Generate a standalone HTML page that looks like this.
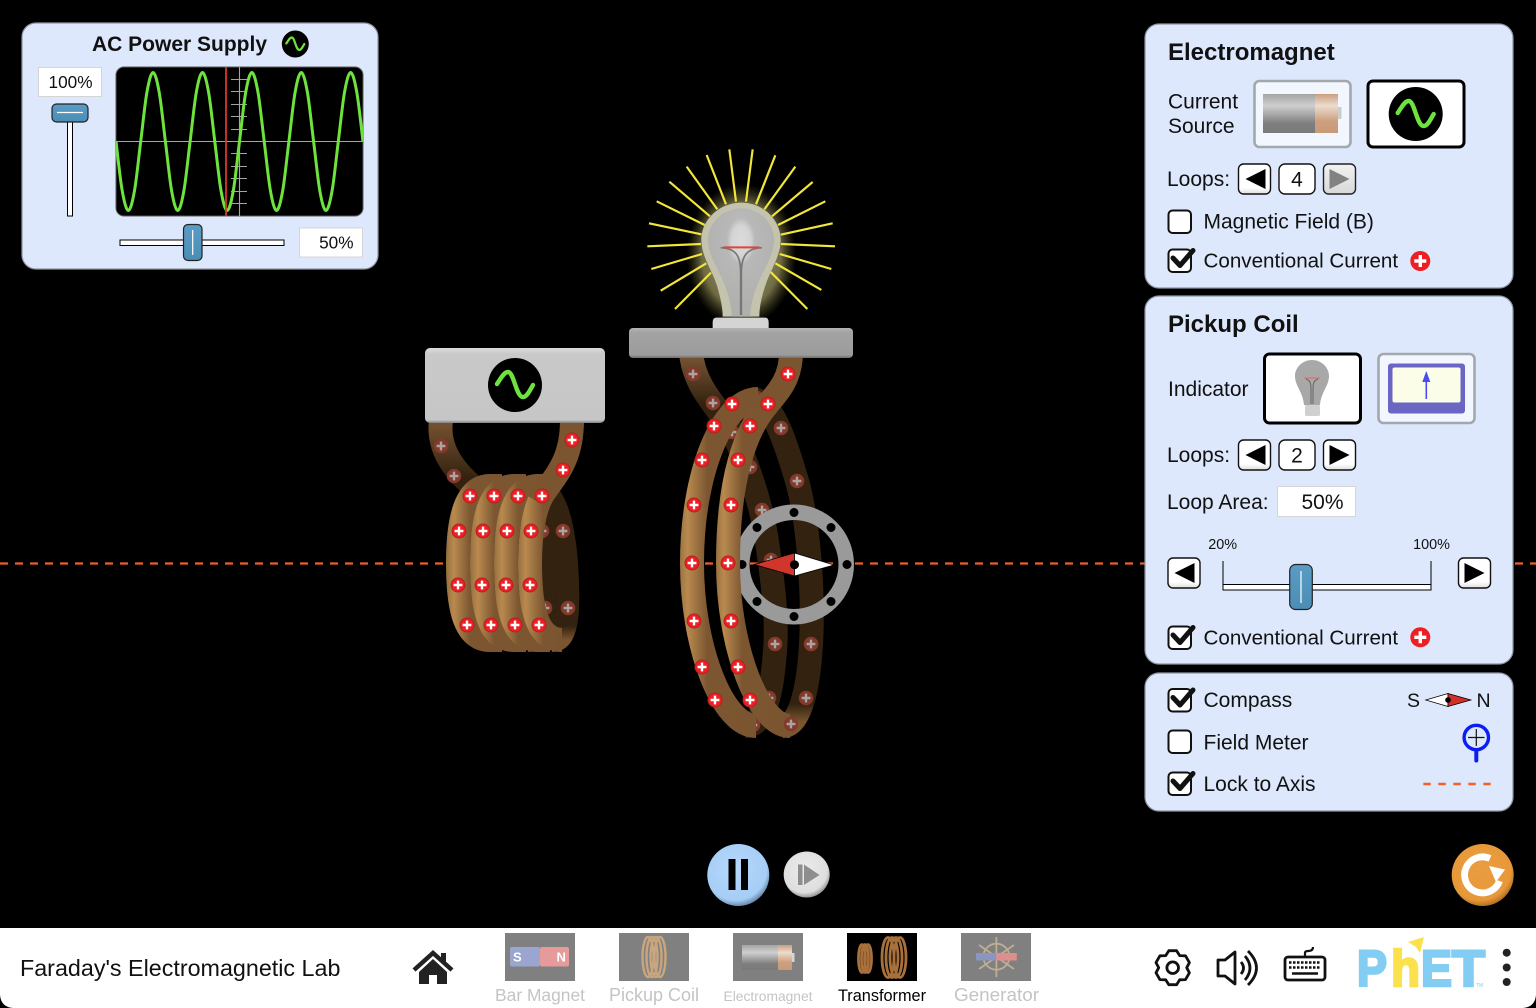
<!DOCTYPE html>
<html lang="en">
<head>
<meta charset="utf-8">
<title>Faraday's Electromagnetic Lab</title>
<style>
html,body{margin:0;padding:0;background:#000;width:1536px;height:1008px;overflow:hidden}
svg{display:block}
text{font-family:"Liberation Sans",Arial,sans-serif;fill:#111}
</style>
</head>
<body>
<svg id="scene" xmlns="http://www.w3.org/2000/svg" width="1536" height="1008" viewBox="0 0 1536 1008">
<defs>
  <g id="m"><circle r="7" fill="#ec1f24"/><circle r="7" fill="none" stroke="#b5201f" stroke-width="1"/><path d="M-4.4,0H4.4M0,-4.4V4.4" stroke="#fff" stroke-width="2.4"/></g>
  <g id="d"><circle r="7.3" fill="#83392b"/><path d="M-4.4,0H4.4M0,-4.4V4.4" stroke="#a9a6a2" stroke-width="2.4"/></g>
  <linearGradient id="gp" x1="-0.375" x2="1" y1="0" y2="0"><stop offset="0" stop-color="#96703f"/><stop offset=".17" stop-color="#b98a4f"/><stop offset=".58" stop-color="#7c5631"/><stop offset="1" stop-color="#7a5530"/></linearGradient>
  <linearGradient id="gp2" x1="-0.27" x2="1" y1="0" y2="0"><stop offset="0" stop-color="#96703f"/><stop offset=".14" stop-color="#b98a4f"/><stop offset=".43" stop-color="#7c5631"/><stop offset="1" stop-color="#7a5530"/></linearGradient>
  <linearGradient id="gs" x1="-0.2" x2="1" y1="0" y2="0"><stop offset="0" stop-color="#96703f"/><stop offset=".11" stop-color="#b98a4f"/><stop offset=".36" stop-color="#7c5631"/><stop offset="1" stop-color="#7a5530"/></linearGradient>
  <linearGradient id="leadP" gradientUnits="userSpaceOnUse" x1="0" x2="0" y1="425" y2="478"><stop offset="0" stop-color="#735030"/><stop offset="1" stop-color="#33220f"/></linearGradient>
  <linearGradient id="leadS" gradientUnits="userSpaceOnUse" x1="0" x2="0" y1="360" y2="405"><stop offset="0" stop-color="#735030"/><stop offset="1" stop-color="#33220f"/></linearGradient>
  <linearGradient id="botS" gradientUnits="userSpaceOnUse" x1="0" x2="0" y1="704" y2="722"><stop offset="0" stop-color="#33220f"/><stop offset="1" stop-color="#7a5530"/></linearGradient>
  <linearGradient id="botP" gradientUnits="userSpaceOnUse" x1="0" x2="0" y1="626" y2="640"><stop offset="0" stop-color="#33220f"/><stop offset="1" stop-color="#7a5530"/></linearGradient>
  <linearGradient id="thumb" x1="0" x2="0" y1="0" y2="1"><stop offset="0" stop-color="#5a9cc4"/><stop offset="1" stop-color="#4a8db5"/></linearGradient>
  <linearGradient id="btn" x1="0" x2="0" y1="0" y2="1"><stop offset="0" stop-color="#fff"/><stop offset=".8" stop-color="#fff"/><stop offset="1" stop-color="#ddd"/></linearGradient>
  <linearGradient id="btnOff" x1="0" x2="0" y1="0" y2="1"><stop offset="0" stop-color="#f2f2f2"/><stop offset="1" stop-color="#d8d8d8"/></linearGradient>
  <linearGradient id="batG" x1="0" x2="0" y1="0" y2="1"><stop offset="0" stop-color="#a4a4a4"/><stop offset=".3" stop-color="#cfcfcf"/><stop offset=".75" stop-color="#7f7f7f"/><stop offset="1" stop-color="#7a7a7a"/></linearGradient>
  <linearGradient id="batC" x1="0" x2="0" y1="0" y2="1"><stop offset="0" stop-color="#cc9e7c"/><stop offset=".3" stop-color="#ecdcd0"/><stop offset=".7" stop-color="#cc9f7e"/><stop offset="1" stop-color="#c89a78"/></linearGradient>
  <linearGradient id="plat" x1="0" x2="0" y1="0" y2="1"><stop offset="0" stop-color="#b4b4b4"/><stop offset=".15" stop-color="#a3a3a3"/><stop offset=".9" stop-color="#9c9c9c"/><stop offset="1" stop-color="#6d6d6d"/></linearGradient>
  <linearGradient id="box" x1="0" x2="0" y1="0" y2="1"><stop offset="0" stop-color="#dcdcdc"/><stop offset=".08" stop-color="#c9c9c9"/><stop offset=".96" stop-color="#c6c6c6"/><stop offset="1" stop-color="#808080"/></linearGradient>
  <radialGradient id="pauseG" cx=".45" cy=".4" r=".62"><stop offset="0" stop-color="#b7d8fb"/><stop offset=".82" stop-color="#a6cdf6"/><stop offset="1" stop-color="#5f7d9f"/></radialGradient>
  <radialGradient id="stepG" cx=".45" cy=".4" r=".62"><stop offset="0" stop-color="#ececec"/><stop offset=".8" stop-color="#dedede"/><stop offset="1" stop-color="#8a8a8a"/></radialGradient>
  <radialGradient id="resetG" cx=".45" cy=".4" r=".62"><stop offset="0" stop-color="#ea9d42"/><stop offset=".82" stop-color="#e79838"/><stop offset="1" stop-color="#a96a20"/></radialGradient>
  <radialGradient id="bulbIn" cx=".5" cy=".3" r=".6"><stop offset="0" stop-color="#dcdcdc"/><stop offset=".24" stop-color="#d4d4d4"/><stop offset=".36" stop-color="#b8b8b8"/><stop offset="1" stop-color="#b0b0ae"/></radialGradient>
  <radialGradient id="glow" cx=".5" cy=".5" r=".5"><stop offset="0" stop-color="#e8e29a" stop-opacity=".8"/><stop offset=".72" stop-color="#c8c27a" stop-opacity=".55"/><stop offset="1" stop-color="#888240" stop-opacity="0"/></radialGradient>
  <clipPath id="scopeClip"><rect x="116" y="67" width="247" height="149" rx="8"/></clipPath>
  <g id="sineIcon"><circle r="27" fill="#000"/><path d="M-18,-1 C-14,-7 -11,-13 -7,-13 C-1,-13 1,12 8,12 C12,12 15,5 18,0" fill="none" stroke="#6fe33d" stroke-width="4.4" stroke-linecap="round"/></g>
  <path id="triL" d="M0,-10 L-20,0 L0,10 Z"/>
</defs>

<rect width="1536" height="1008" fill="#000"/>

<path d="M0,563.5H450" stroke="#ea6029" stroke-width="2.2" stroke-dasharray="8 7"/>
<path d="M690,563.5H1536" stroke="#ea6029" stroke-width="2.2" stroke-dasharray="8 7"/>

<!-- ELECTROMAGNET COIL -->
<g fill="none" stroke-width="24">
  <path d="M441,420 C437,450 455,475 488,498" stroke="url(#leadP)"/>
  <path d="M511,486 C531,490 539,525 542,563 C544,600 546,640 528,640" stroke="url(#botP)"/>
  <path d="M535,486 C555,490 563,525 566,563 C568,600 570,640 552,640" stroke="url(#botP)"/>
  <use href="#d" x="441" y="446"/>
  <use href="#d" x="454" y="476"/>
  <use href="#d" x="563" y="531"/>
  <use href="#d" x="568" y="608"/>
  <use href="#d" x="542" y="531"/>
  <use href="#d" x="545" y="608"/>
  <path d="M502,486 L490,486 C462,486 458,530 458,563 C458,600 462,640 490,640 L502,640" stroke="url(#gp2)"/>
  <path d="M526,486 L514,486 C486,486 482,530 482,563 C482,600 486,640 514,640 L526,640" stroke="url(#gp2)"/>
  <path d="M550,486 L538,486 C510,486 506,530 506,563 C506,600 510,640 538,640 L550,640" stroke="url(#gp2)"/>
  <path d="M562,640 C534,640 530,600 530,563 C530,535 534,510 542,496" stroke="url(#gp)"/>
  <path d="M538,502 C552,478 572,465 572,420" stroke="#7a5530"/>
  <use href="#m" x="572" y="440"/>
  <use href="#m" x="563" y="470"/>
  <use href="#m" x="470" y="496"/>
  <use href="#m" x="494" y="496"/>
  <use href="#m" x="518" y="496"/>
  <use href="#m" x="542" y="496"/>
  <use href="#m" x="459" y="531"/>
  <use href="#m" x="483" y="531"/>
  <use href="#m" x="507" y="531"/>
  <use href="#m" x="531" y="531"/>
  <use href="#m" x="458" y="585"/>
  <use href="#m" x="482" y="585"/>
  <use href="#m" x="506" y="585"/>
  <use href="#m" x="530" y="585"/>
  <use href="#m" x="467" y="625"/>
  <use href="#m" x="491" y="625"/>
  <use href="#m" x="515" y="625"/>
  <use href="#m" x="539" y="625"/>
</g>
<g>
  <rect x="425" y="348" width="180" height="75" rx="5" fill="url(#box)"/>
  <use href="#sineIcon" transform="translate(515,385)"/>
</g>

<!-- PICKUP COIL BACK -->
<g fill="none" stroke-width="24">
  <path d="M691,352 C693,380 710,400 723,417 C740,442 758,490 766,535 C772,575 778,620 775,650 C773,680 768,726 745,726" stroke="url(#leadS)"/>
  <path d="M752,399 C772,400 785,440 797,481 C808,520 814,590 811,644 C809,680 802,726 783,726" stroke="url(#botS)"/>
  <use href="#d" x="693" y="374"/>
  <use href="#d" x="713" y="403"/>
  <use href="#d" x="732" y="432"/>
  <use href="#d" x="750" y="467"/>
  <use href="#d" x="762" y="510"/>
  <use href="#d" x="771" y="560"/>
  <use href="#d" x="775" y="644"/>
  <use href="#d" x="769" y="698"/>
  <use href="#d" x="753" y="725"/>
  <use href="#d" x="757" y="398"/>
  <use href="#d" x="781" y="428"/>
  <use href="#d" x="797" y="481"/>
  <use href="#d" x="811" y="644"/>
  <use href="#d" x="806" y="698"/>
</g>

<!-- COMPASS -->
<g>
  <path fill-rule="evenodd" fill="#9a9a9a" d="M734,564.5a60,60 0 1,0 120,0a60,60 0 1,0 -120,0Z M749.5,564.5a44.5,44.5 0 1,0 89,0a44.5,44.5 0 1,0 -89,0Z"/>
  <g fill="#000">
    <circle cx="794" cy="512.5" r="4.5"/><circle cx="831" cy="527.5" r="4.5"/><circle cx="847" cy="564.5" r="4.5"/><circle cx="831" cy="601.5" r="4.5"/><circle cx="794" cy="616.5" r="4.5"/><circle cx="757" cy="601.5" r="4.5"/><circle cx="742" cy="564.5" r="4.5"/><circle cx="757" cy="527.5" r="4.5"/>
  </g>
  <path d="M754,564.5 L794.5,553 L794.5,576 Z" fill="#d1362d" stroke="#000" stroke-width=".8"/>
  <path d="M834,565 L794.5,553 L794.5,576 Z" fill="#fff" stroke="#000" stroke-width=".8"/>
  <circle cx="794.5" cy="564.7" r="4.5" fill="#000"/>
</g>

<!-- PICKUP COIL FRONT -->
<g fill="none" stroke-width="24">
  <path d="M758,399 C722,399 692,475 692,563 C692,646 722,726 756,726" stroke="url(#gs)"/>
  <path d="M790,726 C758,726 728,646 728,563 C728,480 745,430 768,404" stroke="url(#gs)"/>
  <path d="M761,412 C778,392 791,380 791,352" stroke="#7a5530"/>
  <use href="#d" x="791" y="724"/>
  <use href="#m" x="788" y="374"/>
  <use href="#m" x="732" y="404"/>
  <use href="#m" x="768" y="404"/>
  <use href="#m" x="714" y="426"/>
  <use href="#m" x="750" y="426"/>
  <use href="#m" x="702" y="460"/>
  <use href="#m" x="738" y="460"/>
  <use href="#m" x="694" y="505"/>
  <use href="#m" x="731" y="505"/>
  <use href="#m" x="692" y="563"/>
  <use href="#m" x="728" y="563"/>
  <use href="#m" x="694" y="621"/>
  <use href="#m" x="731" y="621"/>
  <use href="#m" x="702" y="667"/>
  <use href="#m" x="738" y="667"/>
  <use href="#m" x="715" y="700"/>
  <use href="#m" x="750" y="700"/>
</g>

<!-- LIGHT BULB (drawn in 3x local coordinates) -->
<g transform="translate(630,140) scale(.33333)">
  <ellipse cx="334" cy="345" rx="165" ry="215" fill="url(#glow)"/>
  <g stroke="#f2e63a" stroke-width="6.5" fill="none">
    <path d="M298,28L318,185M368,28L348,185M230,45L288,193M436,46L378,193M170,80L262,208M496,80L403,208M118,125L240,229M548,126L426,229M80,184L224,255M586,184L444,255M57,250L214,283M608,250L452,284M52,319L213,312M615,319L453,312M64,387L216,342M604,387L449,342M92,452L229,370M574,450L436,370M135,507L243,398M532,507L422,396"/>
  </g>
  <path d="M334,188 C400,188 452,240 452,300 C452,350 420,390 405,440 C395,470 388,500 388,530 L278,530 C278,500 270,470 262,440 C247,390 214,350 214,300 C214,240 268,188 334,188 Z" fill="#c4c3ad"/>
  <path d="M334,205 C390,205 432,250 432,300 C432,350 395,395 378,445 C368,475 362,500 360,530 L306,530 C304,500 298,475 288,445 C271,395 234,350 234,300 C234,250 278,205 334,205 Z" fill="url(#bulbIn)"/>
  <path d="M272,323 C320,325 332,350 332,400 V525 M396,323 C348,325 334,350 334,400 V525" fill="none" stroke="#777" stroke-width="5"/>
  <path d="M280,322H388" stroke="#e0443c" stroke-width="6"/>
  <path d="M258,533 H406 Q416,533 416,548 V566 H248 V548 Q248,533 258,533 Z" fill="#d4d4d4"/>
</g>
<rect x="629" y="328" width="224" height="30" rx="4" fill="url(#plat)"/>

<!-- AC POWER SUPPLY PANEL -->
<g>
  <rect x="22" y="23" width="356" height="246" rx="14" fill="#dde8fc" stroke="#8f96a3" stroke-width="1.2"/>
  <text x="92" y="51" font-size="21" font-weight="700">AC Power Supply</text>
  <use href="#sineIcon" transform="translate(295.3,44) scale(.5)"/>
  <rect x="38.5" y="67.5" width="63" height="29" fill="#fff" stroke="#d5d5d5" stroke-width="1"/>
  <text x="70.5" y="88" font-size="17.2" text-anchor="middle">100%</text>
  <rect x="67.5" y="117" width="5" height="99" fill="#fff" stroke="#000" stroke-width="1"/>
  <g>
    <rect x="52" y="104" width="36" height="18" rx="4.5" fill="url(#thumb)" stroke="#222" stroke-width="1.2"/>
    <path d="M57,112.5H83" stroke="#fff" stroke-width="1.2"/>
  </g>
  <rect x="116" y="67" width="247" height="149" rx="8" fill="#000" stroke="#5a5a5a" stroke-width="1"/>
  <g id="scopeLayer" clip-path="url(#scopeClip)">
    <g stroke="#a5a5a5" stroke-width="1.1">
      <path d="M116,141.5H363"/>
      <path d="M239.5,67V216"/>
      <path d="M231,79.5H247M231,91.5H247M231,104.5H247M231,116.5H247M231,129.5H247M231,153.5H247M231,166.5H247M231,178.5H247M231,191.5H247M231,203.5H247"/>
    </g>
    <path id="scopeWave" fill="none" stroke="#6fe33d" stroke-width="3"/>
    <path d="M226,67V216" stroke="#d8352b" stroke-width="1.8"/>
  </g>
  <rect x="299.5" y="228" width="63" height="29" fill="#fff" stroke="#d5d5d5" stroke-width="1"/>
  <text x="353.5" y="248.5" font-size="17.2" text-anchor="end">50%</text>
  <rect x="120" y="240" width="164" height="5.5" fill="#fff" stroke="#000" stroke-width="1"/>
  <g>
    <rect x="183.5" y="224.5" width="18.5" height="36" rx="4.5" fill="url(#thumb)" stroke="#222" stroke-width="1.2"/>
    <path d="M192.7,230V255" stroke="#fff" stroke-width="1.2"/>
  </g>
</g>

<!-- ELECTROMAGNET PANEL -->
<g>
  <rect x="1145" y="24" width="368" height="264" rx="14" fill="#dde8fc" stroke="#8f96a3" stroke-width="1.2"/>
  <text x="1168" y="60" font-size="24" font-weight="700">Electromagnet</text>
  <text font-size="21"><tspan x="1168" y="108.5">Current</tspan><tspan x="1168" y="133">Source</tspan></text>
  <g>
    <rect x="1254.5" y="81" width="96" height="66" rx="5" fill="#f2f6fe" stroke="#a3a8ad" stroke-width="2.6"/>
    <rect x="1263" y="94" width="52" height="39" fill="url(#batG)"/>
    <rect x="1315" y="94" width="23" height="39" fill="url(#batC)"/>
    <rect x="1338" y="107" width="3.5" height="12" fill="#ccc"/>
  </g>
  <g>
    <rect x="1368" y="81" width="96" height="66" rx="5" fill="#fff" stroke="#000" stroke-width="3"/>
    <use href="#sineIcon" transform="translate(1415.7,114)"/>
  </g>
  <text x="1167" y="186" font-size="21">Loops:</text>
  <g>
    <rect x="1238.5" y="164" width="32" height="30" rx="5" fill="url(#btn)" stroke="#111" stroke-width="1.4"/>
    <use href="#triL" transform="translate(1265.5,179)" fill="#000"/>
  </g>
  <rect x="1279" y="164" width="36" height="30" rx="6" fill="#fff" stroke="#111" stroke-width="1.4"/>
  <text x="1297" y="186.5" font-size="21" text-anchor="middle">4</text>
  <g>
    <rect x="1323.5" y="164" width="32" height="30" rx="5" fill="url(#btnOff)" stroke="#222" stroke-width="1.4"/>
    <use href="#triL" transform="translate(1329.5,179) scale(-1,1)" fill="#828282"/>
  </g>
  <g>
    <rect x="1168.5" y="210.5" width="22.5" height="22.5" rx="4" fill="#fff" stroke="#111" stroke-width="2"/>
    <text x="1203.5" y="228.5" font-size="21">Magnetic Field (B)</text>
  </g>
  <g>
    <rect x="1168.5" y="249.5" width="22.5" height="22.5" rx="4" fill="#fff" stroke="#111" stroke-width="2"/>
    <path d="M1173,258 L1180,265.5 L1193,250.5" fill="none" stroke="#111" stroke-width="5" stroke-linecap="round" stroke-linejoin="round"/>
    <text x="1203.5" y="267.7" font-size="20.6">Conventional Current</text>
  </g>
  <g transform="translate(1420.3,261)">
    <circle r="10" fill="#ec1f24"/>
    <path d="M-6,0H6M0,-6V6" stroke="#fff" stroke-width="3.4"/>
  </g>
</g>

<!-- PICKUP COIL PANEL -->
<g>
  <rect x="1145" y="296" width="368" height="368" rx="14" fill="#dde8fc" stroke="#8f96a3" stroke-width="1.2"/>
  <text x="1168" y="332" font-size="24" font-weight="700">Pickup Coil</text>
  <text x="1168" y="396" font-size="21">Indicator</text>
  <g>
    <rect x="1264.5" y="354" width="96" height="69" rx="5" fill="#fff" stroke="#000" stroke-width="3"/>
    <path d="M1312,360 C1322,360 1329,368 1329,376 C1329,386 1321,392 1320,405 H1304 C1303,392 1295,386 1295,376 C1295,368 1302,360 1312,360 Z" fill="#a8a8a8"/>
    <path d="M1304,378 H1320" stroke="#d9706b" stroke-width="1.2"/>
    <path d="M1306,379 C1310,380 1311,384 1311,388 V404 M1318,379 C1314,380 1313,384 1313,388 V404" fill="none" stroke="#666" stroke-width="1"/>
    <rect x="1305" y="405" width="15" height="11" rx="1.5" fill="#d0d0d0"/>
  </g>
  <g>
    <rect x="1378.5" y="354" width="96" height="69" rx="5" fill="#f2f6fe" stroke="#a3a8ad" stroke-width="2.6"/>
    <rect x="1388" y="363.5" width="77" height="50" rx="3" fill="#6b66c3"/>
    <rect x="1392.5" y="367.5" width="68" height="35" rx="2" fill="#fbfde8"/>
    <path d="M1426.3,399 V378" stroke="#4a4cf0" stroke-width="1.6"/>
    <path d="M1426.3,371 L1422.3,382 H1430.3 Z" fill="#4a4cf0"/>
  </g>
  <text x="1167" y="462" font-size="21">Loops:</text>
  <g>
    <rect x="1238.5" y="440" width="32" height="30" rx="5" fill="url(#btn)" stroke="#111" stroke-width="1.4"/>
    <use href="#triL" transform="translate(1265.5,455)" fill="#000"/>
  </g>
  <rect x="1279" y="440" width="36" height="30" rx="6" fill="#fff" stroke="#111" stroke-width="1.4"/>
  <text x="1297" y="462.5" font-size="21" text-anchor="middle">2</text>
  <g>
    <rect x="1323.5" y="440" width="32" height="30" rx="5" fill="url(#btn)" stroke="#111" stroke-width="1.4"/>
    <use href="#triL" transform="translate(1329.5,455) scale(-1,1)" fill="#000"/>
  </g>
  <text x="1167" y="509" font-size="21">Loop Area:</text>
  <rect x="1277.5" y="486.5" width="78" height="30" fill="#fff" stroke="#d5d5d5" stroke-width="1"/>
  <text x="1343.5" y="509" font-size="21" text-anchor="end">50%</text>
  <text x="1222.7" y="549" font-size="14.4" text-anchor="middle">20%</text>
  <text x="1431.5" y="549" font-size="14.4" text-anchor="middle">100%</text>
  <g>
    <rect x="1168" y="558" width="32" height="30" rx="5" fill="url(#btn)" stroke="#111" stroke-width="1.4"/>
    <use href="#triL" transform="translate(1194.5,573)" fill="#000"/>
  </g>
  <g>
    <rect x="1458.5" y="558" width="32" height="30" rx="5" fill="url(#btn)" stroke="#111" stroke-width="1.4"/>
    <use href="#triL" transform="translate(1464.5,573) scale(-1,1)" fill="#000"/>
  </g>
  <rect x="1223" y="584.5" width="208" height="5.5" fill="#fff" stroke="#000" stroke-width="1"/>
  <path d="M1223,561V590M1431,561V590" stroke="#000" stroke-width="1"/>
  <g>
    <rect x="1289.7" y="564.5" width="22.6" height="45" rx="6" fill="url(#thumb)" stroke="#222" stroke-width="1.2"/>
    <path d="M1301,571V603" stroke="#fff" stroke-width="1.2"/>
  </g>
  <g>
    <rect x="1168.5" y="626.5" width="22.5" height="22.5" rx="4" fill="#fff" stroke="#111" stroke-width="2"/>
    <path d="M1173,635 L1180,642.5 L1193,627.5" fill="none" stroke="#111" stroke-width="5" stroke-linecap="round" stroke-linejoin="round"/>
    <text x="1203.5" y="644.5" font-size="20.6">Conventional Current</text>
  </g>
  <g transform="translate(1420.3,637.3)">
    <circle r="10" fill="#ec1f24"/>
    <path d="M-6,0H6M0,-6V6" stroke="#fff" stroke-width="3.4"/>
  </g>
</g>

<!-- TOOLS PANEL -->
<g>
  <rect x="1145" y="673" width="368" height="138" rx="14" fill="#dde8fc" stroke="#8f96a3" stroke-width="1.2"/>
  <g>
    <rect x="1168.5" y="689" width="22.5" height="22.5" rx="4" fill="#fff" stroke="#111" stroke-width="2"/>
    <path d="M1173,697.5 L1180,705 L1193,690" fill="none" stroke="#111" stroke-width="5" stroke-linecap="round" stroke-linejoin="round"/>
    <text x="1203.5" y="707" font-size="21">Compass</text>
  </g>
  <text x="1407" y="707" font-size="19.5">S</text>
  <path d="M1425.7,700 L1448,693.5 V706.5 Z" fill="#fff" stroke="#000" stroke-width=".7"/>
  <path d="M1471,700 L1448,693.5 V706.5 Z" fill="#cf3028" stroke="#000" stroke-width=".7"/>
  <circle cx="1448" cy="700" r="2.8" fill="#000"/>
  <text x="1476.5" y="707" font-size="19.5">N</text>
  <g>
    <rect x="1168.5" y="730.5" width="22.5" height="22.5" rx="4" fill="#fff" stroke="#111" stroke-width="2"/>
    <text x="1203.5" y="749.5" font-size="21">Field Meter</text>
  </g>
  <g>
    <circle cx="1476.3" cy="737.5" r="12.2" fill="none" stroke="#0b1ef0" stroke-width="3.4"/>
    <path d="M1468,737.5H1484.5M1476.3,729V746" stroke="#111" stroke-width="1.2"/>
    <path d="M1476.3,750V760.5" stroke="#0b1ef0" stroke-width="4" stroke-linecap="round"/>
  </g>
  <g>
    <rect x="1168.5" y="772.5" width="22.5" height="22.5" rx="4" fill="#fff" stroke="#111" stroke-width="2"/>
    <path d="M1173,781 L1180,788.5 L1193,773.5" fill="none" stroke="#111" stroke-width="5" stroke-linecap="round" stroke-linejoin="round"/>
    <text x="1203.5" y="791" font-size="21">Lock to Axis</text>
  </g>
  <path d="M1423.3,784H1491" stroke="#f5602a" stroke-width="2.4" stroke-dasharray="7.5 7.5"/>
</g>

<!-- TIME CONTROLS -->
<g>
  <circle cx="738.3" cy="875" r="31" fill="url(#pauseG)"/>
  <rect x="728.5" y="859" width="7" height="31" fill="#000"/>
  <rect x="741" y="859" width="7" height="31" fill="#000"/>
</g>
<g>
  <circle cx="806.7" cy="874.5" r="23" fill="url(#stepG)"/>
  <rect x="798" y="864.5" width="4.5" height="20.5" fill="#8e8e8e"/>
  <path d="M804,864.5 L819.5,875 L804,885 Z" fill="#8e8e8e"/>
</g>
<g>
  <circle cx="1482.7" cy="875" r="31" fill="url(#resetG)"/>
  <path d="M1490,858.5 A18,18 0 1,0 1499.5,881" fill="none" stroke="#fff" stroke-width="6.8"/>
  <path d="M1489,866 L1505,869.5 L1496,882 Z" fill="#fff"/>
</g>

<!-- NAVIGATION BAR -->
<rect x="0" y="928" width="1536" height="80" fill="#fff"/>
<path d="M0,995 Q1,1007 13,1008 H0 Z" fill="#000"/>
<path d="M1536,995 Q1535,1007 1523,1008 H1536 Z" fill="#000"/>
<text x="20" y="976" font-size="23.3">Faraday's Electromagnetic Lab</text>

<g>
  <path d="M414,970 L433,953 L452,970" fill="none" stroke="#222" stroke-width="4.4"/>
  <rect x="441" y="953" width="5" height="9" fill="#222"/>
  <path d="M419,972 L433,959 L447,972 V984 H437 V975 H429 V984 H419 Z" fill="#222"/>
</g>

<g>
  <rect x="505" y="933" width="70" height="48" fill="#808080"/>
  <rect x="510" y="947" width="30" height="19.5" rx="2" fill="#9aa6cf"/>
  <rect x="540" y="947" width="29" height="19.5" rx="2" fill="#e69a9a"/>
  <text x="513" y="961.5" font-size="13" font-weight="700" style="fill:#fff">S</text>
  <text x="556.5" y="961.5" font-size="13" font-weight="700" style="fill:#fff">N</text>
  <text x="540" y="1001" font-size="17.4" text-anchor="middle" style="fill:#c4c4c4">Bar Magnet</text>
</g>
<g>
  <rect x="619" y="933" width="70" height="48" fill="#808080"/>
  <g fill="none" stroke="#c9a67d" stroke-width="2.4">
    <ellipse cx="648" cy="957" rx="5.5" ry="20"/><ellipse cx="652" cy="957" rx="5.5" ry="20"/><ellipse cx="656" cy="957" rx="5.5" ry="20"/><ellipse cx="660" cy="957" rx="5.5" ry="20"/>
  </g>
  <text x="654" y="1001" font-size="18" text-anchor="middle" style="fill:#c4c4c4">Pickup Coil</text>
</g>
<g>
  <rect x="733" y="933" width="70" height="48" fill="#808080"/>
  <rect x="742" y="945" width="36" height="25" fill="url(#batG)"/>
  <rect x="778" y="945" width="14" height="25" fill="url(#batC)"/>
  <rect x="792" y="953" width="2.5" height="9" fill="#d5d5d5"/>
  <text x="768" y="1001" font-size="13.8" text-anchor="middle" style="fill:#c4c4c4">Electromagnet</text>
</g>
<g>
  <rect x="847" y="933" width="70" height="48" fill="#000"/>
  <g fill="none" stroke="#a8703a" stroke-width="2.8">
    <ellipse cx="862" cy="958.5" rx="3.5" ry="14"/><ellipse cx="865" cy="958.5" rx="3.5" ry="14"/><ellipse cx="868" cy="958.5" rx="3.5" ry="14"/>
    <ellipse cx="888" cy="957.5" rx="6" ry="20"/><ellipse cx="892" cy="957.5" rx="6" ry="20"/><ellipse cx="896" cy="957.5" rx="6" ry="20"/><ellipse cx="900" cy="957.5" rx="6" ry="20"/>
  </g>
  <text x="882" y="1001" font-size="16.3" text-anchor="middle" style="fill:#000">Transformer</text>
</g>
<g>
  <rect x="961" y="933" width="70" height="48" fill="#808080"/>
  <g fill="none" stroke="#bfae92" stroke-width="1.8">
    <circle cx="996.4" cy="956.7" r="13"/><path d="M996.4,937V977M979,945L1014,969M1014,945L979,969"/>
  </g>
  <rect x="976" y="953" width="20.4" height="7.5" fill="#8b95bf"/>
  <rect x="996.4" y="953" width="20.4" height="7.5" fill="#df8e8e"/>
  <text x="996.5" y="1001" font-size="18.9" text-anchor="middle" style="fill:#c4c4c4">Generator</text>
</g>

<g transform="translate(1172.7,967.7)">
  <path d="M-3.9,-17 L3.9,-17 L7,-12.1 L12.8,-11.9 L16.7,-5.1 L14,0 L16.7,5.1 L12.8,11.9 L7,12.1 L3.9,17 L-3.9,17 L-7,12.1 L-12.8,11.9 L-16.7,5.1 L-14,0 L-16.7,-5.1 L-12.8,-11.9 L-7,-12.1 Z" fill="#fff" stroke="#111" stroke-width="2.8" stroke-linejoin="round"/>
  <circle r="5.8" fill="#fff" stroke="#111" stroke-width="2.8"/>
</g>
<g fill="none" stroke="#111" stroke-width="2.8">
  <path d="M1218,960 H1225 L1235,952 V984 L1225,976 H1218 Z" stroke-linejoin="round"/>
  <path d="M1241,962 Q1246,968 1241,974"/>
  <path d="M1245,956 Q1255,968 1245,980"/>
  <path d="M1248,951 Q1265,968 1248,985"/>
</g>
<g>
  <rect x="1285" y="957" width="40" height="23" rx="3" fill="#fff" stroke="#111" stroke-width="2.8"/>
  <path d="M1305,957 V953 Q1305,951 1308,951 Q1313,951 1313,947" fill="none" stroke="#111" stroke-width="2.2"/>
  <path d="M1289,962.5H1321M1289,967.5H1321" stroke="#111" stroke-width="2.4" stroke-dasharray="2.5 1.5"/>
  <path d="M1292,973.5H1318" stroke="#111" stroke-width="2.4"/>
</g>
<g stroke-width="2.6">
  <text x="1357" y="986" font-size="51" font-weight="700" textLength="30" lengthAdjust="spacingAndGlyphs" style="fill:#83cdf3;stroke:#83cdf3">P</text>
  <text x="1391" y="986" font-size="51" font-weight="700" textLength="29" lengthAdjust="spacingAndGlyphs" style="fill:#fbe24d;stroke:#fbe24d">h</text>
  <path d="M1408,942 L1424,937 L1420,953 L1416,947 Z" fill="#fbe24d"/>
  <text x="1421" y="986" font-size="51" font-weight="700" textLength="31" lengthAdjust="spacingAndGlyphs" style="fill:#83cdf3;stroke:#83cdf3">E</text>
  <text x="1452" y="986" font-size="51" font-weight="700" textLength="33" lengthAdjust="spacingAndGlyphs" style="fill:#83cdf3;stroke:#83cdf3">T</text>
  <text x="1476" y="987" font-size="5" style="fill:#83cdf3">TM</text>
</g>
<g fill="#222">
  <circle cx="1506.7" cy="952.7" r="4"/>
  <circle cx="1506.7" cy="967.5" r="4"/>
  <circle cx="1506.7" cy="982" r="4"/>
</g>
</svg>

<script>
// Oscilloscope trace: voltage fraction per sample, read from the scope (8 samples per cycle, 5 cycles).
var waveVoltages = [
  0, -0.71, -1, -0.71, 0, 0.71, 1, 0.71,
  0, -0.71, -1, -0.71, 0, 0.71, 1, 0.71,
  0, -0.71, -1, -0.71, 0, 0.71, 1, 0.71,
  0, -0.71, -1, -0.71, 0, 0.71, 1, 0.71,
  0, -0.71, -1, -0.71, 0, 0.71, 1, 0.71,
  0
];
var voltageDomain = [-1, 1];

function scopeX(i) {
  return 116 + (i / (waveVoltages.length - 1)) * 247;
}
function scopeY(v) {
  return 141.5 - ((v - (voltageDomain[0] + voltageDomain[1]) / 2) / ((voltageDomain[1] - voltageDomain[0]) / 2)) * 69;
}
function wavePath() {
  var pts = waveVoltages.map(function (v, i) { return [scopeX(i), scopeY(v)]; });
  var d = 'M' + pts[0][0].toFixed(2) + ',' + pts[0][1].toFixed(2);
  for (var i = 0; i < pts.length - 1; i++) {
    var p0 = pts[Math.max(0, i - 1)], p1 = pts[i], p2 = pts[i + 1], p3 = pts[Math.min(pts.length - 1, i + 2)];
    d += ' C' + (p1[0] + (p2[0] - p0[0]) / 6).toFixed(2) + ',' + (p1[1] + (p2[1] - p0[1]) / 6).toFixed(2) +
         ' ' + (p2[0] - (p3[0] - p1[0]) / 6).toFixed(2) + ',' + (p2[1] - (p3[1] - p1[1]) / 6).toFixed(2) +
         ' ' + p2[0].toFixed(2) + ',' + p2[1].toFixed(2);
  }
  return d;
}
document.getElementById('scopeWave').setAttribute('d', wavePath());
</script>
</body>
</html>
